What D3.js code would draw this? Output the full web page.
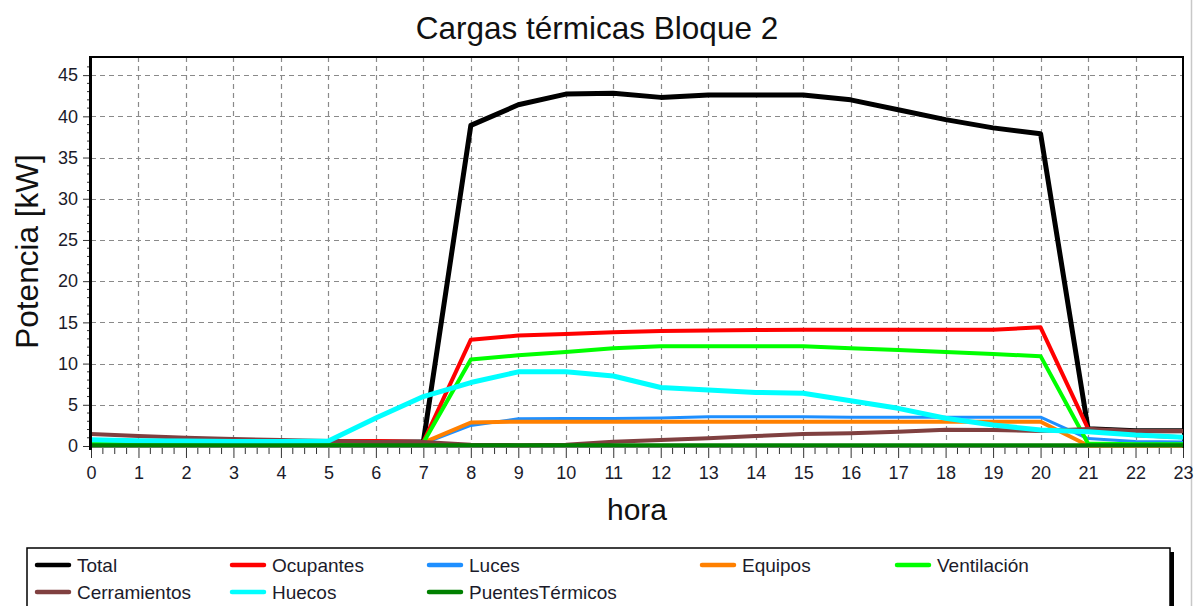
<!DOCTYPE html>
<html>
<head>
<meta charset="utf-8">
<script src="https://cdn.jsdelivr.net/npm/d3@7"></script>
<style>
  html, body { margin: 0; padding: 0; background: #fff; }
  svg { display: block; font-family: "Liberation Sans", Arial, sans-serif; }
</style>
</head>
<body>
<svg id="chart" width="1198" height="606"></svg>
<script>
// Hourly thermal loads (kW) for block 2
const hours = [0, 1, 2, 3, 4, 5, 6, 7, 8, 9, 10, 11, 12, 13, 14, 15, 16, 17, 18, 19, 20, 21, 22, 23];
const total        = [0.5, 0.5, 0.5, 0.5, 0.5, 0.5, 0.5, 0.5, 38.9, 41.4, 42.7, 42.8, 42.3, 42.6, 42.6, 42.6, 42.0, 40.8, 39.6, 38.6, 37.9, 2.1, 1.85, 1.85];
const ocupantes    = [0.6, 0.6, 0.6, 0.6, 0.6, 0.6, 0.6, 0.5, 12.9, 13.4, 13.6, 13.8, 13.95, 14.0, 14.07, 14.1, 14.1, 14.1, 14.1, 14.1, 14.4, 2.1, 1.3, 1.05];
const luces        = [0.3, 0.3, 0.3, 0.3, 0.3, 0.3, 0.3, 0.3, 2.5, 3.3, 3.35, 3.35, 3.4, 3.55, 3.55, 3.55, 3.5, 3.5, 3.5, 3.5, 3.5, 0.9, 0.55, 0.5];
const equipos      = [0.3, 0.3, 0.3, 0.3, 0.3, 0.3, 0.3, 0.4, 2.85, 2.95, 2.95, 2.95, 2.95, 2.95, 2.95, 2.95, 2.95, 2.95, 2.95, 2.95, 2.95, 0.05, 0.05, 0.05];
const ventilacion  = [0.3, 0.3, 0.3, 0.3, 0.3, 0.3, 0.3, 0.4, 10.5, 11.0, 11.4, 11.85, 12.1, 12.1, 12.1, 12.1, 11.85, 11.65, 11.4, 11.15, 10.9, 0.3, 0.2, 0.2];
const cerramientos = [1.45, 1.2, 1.0, 0.85, 0.73, 0.6, 0.5, 0.5, 0.15, 0.1, 0.15, 0.52, 0.73, 0.95, 1.2, 1.45, 1.55, 1.74, 1.98, 1.94, 1.82, 2.06, 1.82, 1.82];
const huecos       = [0.75, 0.65, 0.6, 0.55, 0.55, 0.6, 3.4, 6.0, 7.7, 9.0, 9.0, 8.5, 7.1, 6.8, 6.5, 6.4, 5.5, 4.57, 3.36, 2.55, 1.94, 1.74, 1.33, 1.05];
const puentes      = [0.08, 0.08, 0.08, 0.08, 0.08, 0.08, 0.08, 0.08, 0.08, 0.08, 0.08, 0.08, 0.08, 0.08, 0.08, 0.08, 0.08, 0.08, 0.08, 0.08, 0.08, 0.08, 0.08, 0.08];

const seriesNames  = ["Total", "Ocupantes", "Luces", "Equipos", "Ventilación", "Cerramientos", "Huecos", "PuentesTérmicos"];
const seriesValues = [total, ocupantes, luces, equipos, ventilacion, cerramientos, huecos, puentes];
const seriesColors = ["#000000", "#ff0000", "#1e8fff", "#ff8000", "#00ff00", "#804040", "#00ffff", "#008000"];

const yTicks = [0, 5, 10, 15, 20, 25, 30, 35, 40, 45];
const xTicks = hours;

const titleText = "Cargas térmicas Bloque 2";
const yTitle = "Potencia [kW]";
const xTitle = "hora";

// Layout
const plot = { left: 91, right: 1183, top: 57, bottom: 446 };
const yMax = 47.2;

const svg = d3.select("#chart");

const x = d3.scaleLinear().domain([0, 23]).range([plot.left, plot.right]);
const y = d3.scaleLinear().domain([0, yMax]).range([plot.bottom, plot.top]);

// outer frame edge on the right
svg.append("line")
  .attr("x1", 1191.5).attr("x2", 1191.5).attr("y1", 0).attr("y2", 606)
  .attr("stroke", "#c8c8c8").attr("stroke-width", 1.5);

// Title
svg.append("text")
  .attr("x", 597).attr("y", 39)
  .attr("text-anchor", "middle")
  .attr("font-size", 31.5)
  .attr("fill", "#111")
  .text(titleText);

// Grid
const grid = svg.append("g").attr("stroke", "#8a8a8a").attr("stroke-width", 1.2)
  .attr("stroke-dasharray", "5,4");
grid.selectAll("line.v").data(xTicks.filter(d => d > 0 && d < 23)).join("line")
  .attr("class", "v")
  .attr("x1", d => Math.round(x(d)) + 0.5).attr("x2", d => Math.round(x(d)) + 0.5)
  .attr("y1", plot.top).attr("y2", plot.bottom);
grid.selectAll("line.h").data(yTicks.filter(d => d > 0)).join("line")
  .attr("class", "h")
  .attr("x1", plot.left).attr("x2", plot.right)
  .attr("y1", d => Math.round(y(d)) + 0.5).attr("y2", d => Math.round(y(d)) + 0.5);

// Axes
const yAxis = d3.axisLeft(y).tickValues(yTicks).tickSize(8).tickPadding(5);
const gy = svg.append("g").attr("transform", `translate(${plot.left},0)`).call(yAxis);
gy.select(".domain").remove();
gy.selectAll(".tick line").attr("stroke", "#333").attr("stroke-width", 1);
gy.selectAll(".tick text").attr("font-size", 18).attr("fill", "#1b1b2b")
  .attr("font-family", "Liberation Sans, Arial, sans-serif");

// minor y ticks (1 kW)
const yMinor = d3.range(0, 47, 1).filter(v => v % 5 !== 0);
svg.append("g").selectAll("line").data(yMinor).join("line")
  .attr("x1", plot.left - 4).attr("x2", plot.left)
  .attr("y1", d => y(d)).attr("y2", d => y(d))
  .attr("stroke", "#333").attr("stroke-width", 1);

const xAxis = d3.axisBottom(x).tickValues(xTicks).tickSize(10).tickPadding(8);
const gx = svg.append("g").attr("transform", `translate(0,${plot.bottom + 2})`).call(xAxis);
gx.select(".domain").remove();
gx.selectAll(".tick line").attr("stroke", "#333").attr("stroke-width", 1);
gx.selectAll(".tick text").attr("font-size", 18).attr("fill", "#1b1b2b")
  .attr("font-family", "Liberation Sans, Arial, sans-serif");

// minor x ticks (quarter hours)
const xMinor = d3.range(0, 23, 0.25).filter(v => v % 1 !== 0);
svg.append("g").selectAll("line").data(xMinor).join("line")
  .attr("x1", d => x(d)).attr("x2", d => x(d))
  .attr("y1", plot.bottom + 2).attr("y2", plot.bottom + 8)
  .attr("stroke", "#333").attr("stroke-width", 1);

// Plot frame
svg.append("line").attr("x1", plot.left).attr("x2", plot.right + 1)
  .attr("y1", plot.top).attr("y2", plot.top).attr("stroke", "#000").attr("stroke-width", 2);
svg.append("line").attr("x1", plot.right).attr("x2", plot.right)
  .attr("y1", plot.top).attr("y2", plot.bottom + 2).attr("stroke", "#000").attr("stroke-width", 2);
svg.append("line").attr("x1", plot.left).attr("x2", plot.right)
  .attr("y1", plot.bottom + 1).attr("y2", plot.bottom + 1).attr("stroke", "#000").attr("stroke-width", 1);

// Series lines
const line = d3.line().x((d, i) => x(hours[i])).y(d => y(d));
const widths = [5, 4, 3, 4, 4, 4, 5, 4];
svg.append("g").selectAll("path").data(seriesValues).join("path")
  .attr("d", d => line(d))
  .attr("fill", "none")
  .attr("stroke", (d, i) => seriesColors[i])
  .attr("stroke-width", (d, i) => widths[i])
  .attr("stroke-linejoin", "round");

// Left axis line drawn on top
svg.append("line").attr("x1", plot.left - 0.5).attr("x2", plot.left - 0.5)
  .attr("y1", plot.top - 1).attr("y2", plot.bottom + 4).attr("stroke", "#000").attr("stroke-width", 3);

// Axis titles
svg.append("text")
  .attr("transform", `translate(38,${(plot.top + plot.bottom) / 2}) rotate(-90)`)
  .attr("text-anchor", "middle").attr("font-size", 31.5).attr("fill", "#111")
  .text(yTitle);
svg.append("text")
  .attr("x", (plot.left + plot.right) / 2).attr("y", 520)
  .attr("text-anchor", "middle").attr("font-size", 30).attr("fill", "#111")
  .text(xTitle);

// Legend
const legend = { left: 27, top: 548, right: 1170, bottom: 620 };
svg.append("rect")
  .attr("x", legend.left + 4).attr("y", legend.top + 4)
  .attr("width", legend.right - legend.left).attr("height", legend.bottom - legend.top)
  .attr("fill", "#000");
svg.append("rect")
  .attr("x", legend.left).attr("y", legend.top)
  .attr("width", legend.right - legend.left).attr("height", legend.bottom - legend.top)
  .attr("fill", "#fff").attr("stroke", "#000").attr("stroke-width", 1.5);

const legendColX = [35, 230, 427, 700, 895];
const legendRowY = [565, 592];
const items = svg.append("g").selectAll("g").data(seriesNames).join("g")
  .attr("transform", (d, i) => `translate(${legendColX[i % 5]},${legendRowY[Math.floor(i / 5)]})`);
items.append("line")
  .attr("x1", 2).attr("x2", 34).attr("y1", 0).attr("y2", 0)
  .attr("stroke", (d, i) => seriesColors[i]).attr("stroke-width", 4.5)
  .attr("stroke-linecap", "round");
items.append("text")
  .attr("x", 42).attr("y", 0).attr("dy", "0.35em")
  .attr("font-size", 19).attr("fill", "#1b1b2b")
  .text(d => d);
</script>
</body>
</html>
